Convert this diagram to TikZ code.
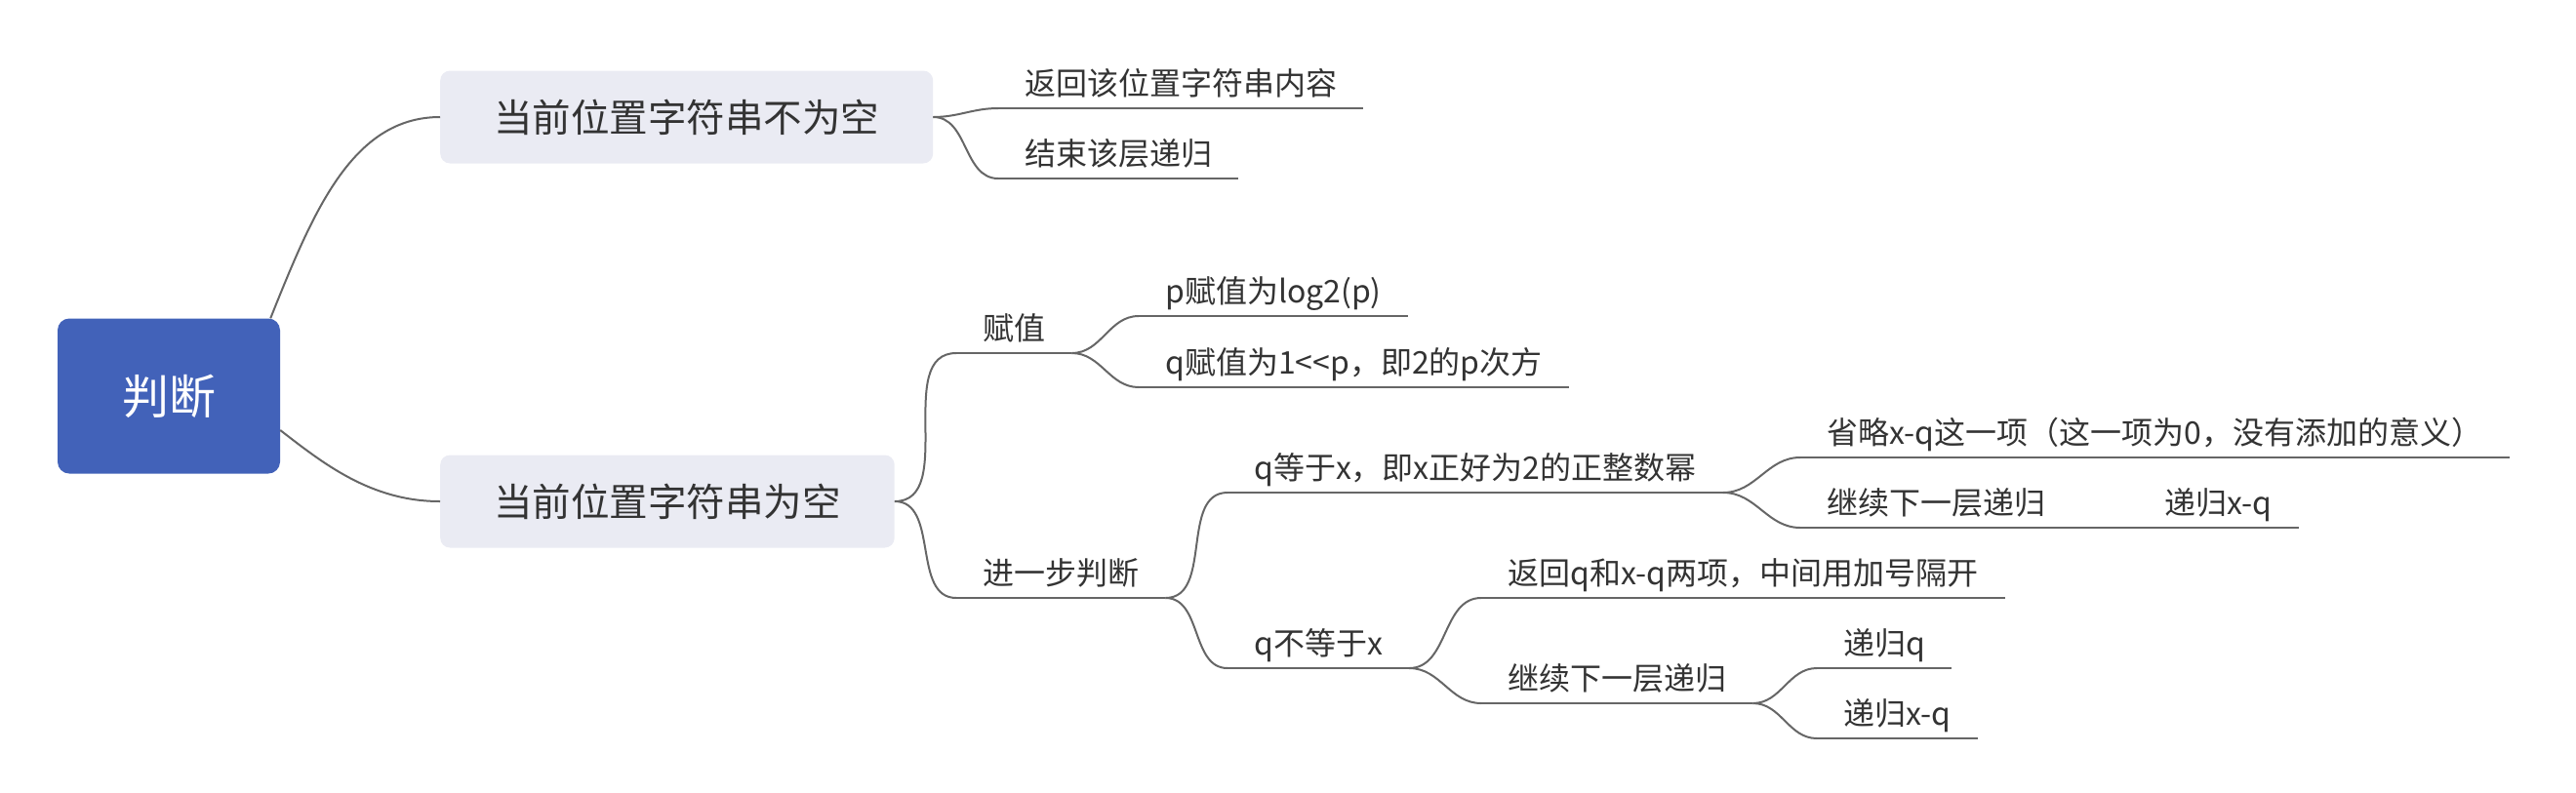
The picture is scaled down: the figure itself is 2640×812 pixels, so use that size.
\documentclass[tikz,border=0pt]{standalone}
\usepackage{fontspec}
\setmainfont{Noto Sans CJK SC}
\definecolor{rootblue}{RGB}{66,98,185}
\definecolor{boxgray}{RGB}{234,235,243}
\definecolor{linegray}{RGB}{102,102,102}
\definecolor{textgray}{RGB}{51,51,51}

\begin{document}
\begin{tikzpicture}[x=1pt,y=-1pt,
  line/.style={draw=linegray,line width=2pt},
  rootbox/.style={fill=rootblue,rounded corners=12pt,text=white,minimum width=228pt,minimum height=159pt,font=\fontsize{48}{56}\selectfont},
  topic/.style={fill=boxgray,rounded corners=10pt,text=textgray,inner xsep=55pt,minimum height=95pt,anchor=west,font=\fontsize{39.5}{46}\selectfont},
  leaf/.style={anchor=south west,inner xsep=27pt,inner ysep=0pt,text height=26pt,text depth=13pt,text=textgray,font=\fontsize{32}{38}\selectfont}]

\useasboundingbox (0,0) rectangle (2640,812);

% centre and the two cases
\node[rootbox] (root) at (173,406) {判断};
\node[topic] (full) at (451,120) {当前位置字符串不为空};
\node[topic] (empty) at (451,514) {当前位置字符串为空};

% string not empty
\node[leaf] (ret) at (1023,111) {返回该位置字符串内容};
\node[leaf] (stop) at (1023,183) {结束该层递归};

% string empty
\node[leaf] (assign) at (980,362) {赋值};
\node[leaf] (further) at (980,613) {进一步判断};
\node[leaf] (passign) at (1167,324) {p赋值为log2(p)};
\node[leaf] (qassign) at (1167,397) {q赋值为1<\kern0pt<p，即2的p次方};
\node[leaf] (qeq) at (1258,505) {q等于x，即x正好为2的正整数幂};
\node[leaf] (qneq) at (1258,685) {q不等于x};
\node[leaf] (omit) at (1845,469) {省略x-q这一项（这一项为0，没有添加的意义）};
\node[leaf] (keepa) at (1845,541) {继续下一层递归};
\node[leaf] (keepax) at (2191,541) {递归x-q};
\node[leaf] (rettwo) at (1518,613) {返回q和x-q两项，中间用加号隔开};
\node[leaf] (keepb) at (1518,721) {继续下一层递归};
\node[leaf] (recq) at (1862,685) {递归q};
\node[leaf] (recxq) at (1862,757) {递归x-q};

% underlines
\foreach \n in {ret,stop,assign,further,passign,qassign,qeq,qneq,omit,rettwo,keepb,recq,recxq}
  \draw[line] (\n.south west) -- (\n.south east);
\draw[line] (keepa.south west) -- (keepax.south east);

% branches
\draw[line] ([xshift=-10pt]root.north east) .. controls +(43,-107) and +(-91,0) .. (full.west);
\draw[line] ([yshift=-35pt]root.east) .. controls +(44,34) and +(-71,0) .. (empty.west);
\draw[line] (full.east) to[out=0,in=180] (ret.south west);
\draw[line] (full.east) to[out=0,in=180] (stop.south west);
\draw[line] (empty.east) to[out=0,in=180] (assign.south west);
\draw[line] (empty.east) to[out=0,in=180] (further.south west);
\draw[line] (assign.south east) to[out=0,in=180] (passign.south west);
\draw[line] (assign.south east) to[out=0,in=180] (qassign.south west);
\draw[line] (further.south east) to[out=0,in=180] (qeq.south west);
\draw[line] (further.south east) to[out=0,in=180] (qneq.south west);
\draw[line] (qeq.south east) to[out=0,in=180] (omit.south west);
\draw[line] (qeq.south east) to[out=0,in=180] (keepa.south west);
\draw[line] (qneq.south east) to[out=0,in=180] (rettwo.south west);
\draw[line] (qneq.south east) to[out=0,in=180] (keepb.south west);
\draw[line] (keepb.south east) to[out=0,in=180] (recq.south west);
\draw[line] (keepb.south east) to[out=0,in=180] (recxq.south west);
\end{tikzpicture}
\end{document}
